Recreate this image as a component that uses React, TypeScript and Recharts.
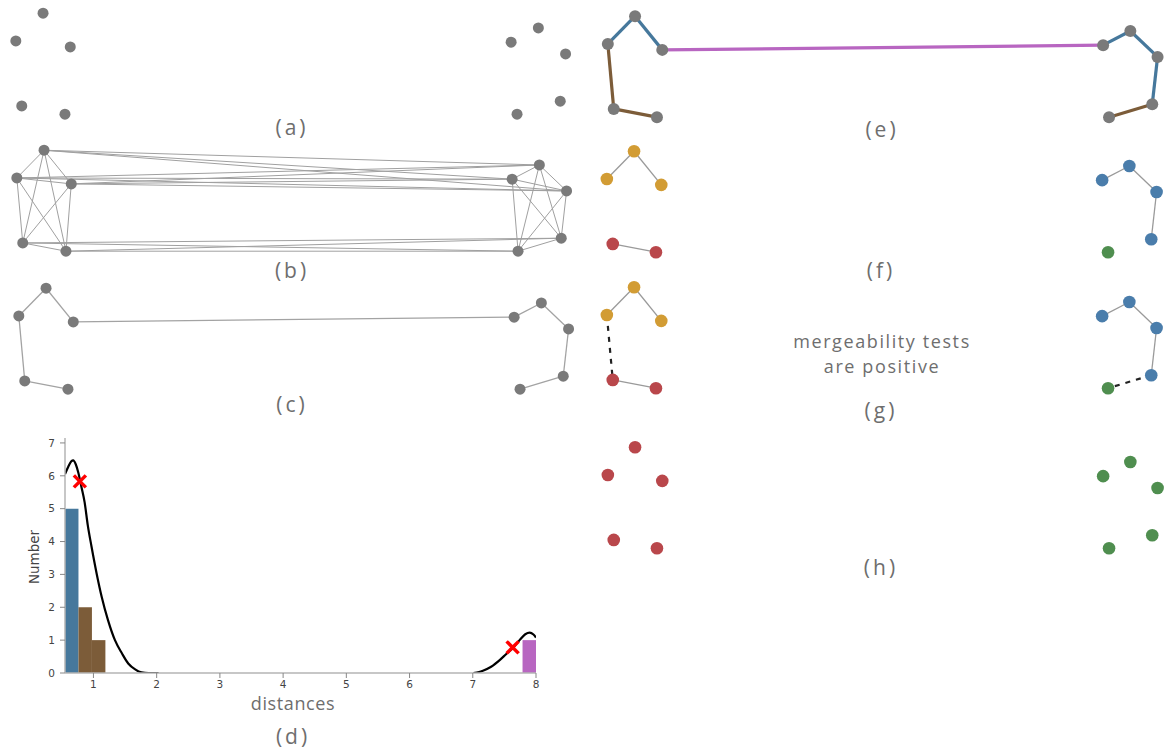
import React from 'react';
import { ScatterChart, Scatter, XAxis, YAxis, ComposedChart, Line, ReferenceArea } from 'recharts';

// the same ten points appear in every graph panel
const PX = [0.46, 0.0, 0.92, 0.1, 0.83, 8.83, 8.37, 9.29, 9.2, 8.47];
const PY = [1.71, 1.24, 1.14, 0.14, 0.0, 1.46, 1.22, 1.02, 0.22, 0.0];

// neighbourhood graph (b): both groups fully connected, plus the cross links
const LEFT_GROUP = [0, 1, 2, 3, 4];
const RIGHT_GROUP = [5, 6, 7, 8, 9];
const CROSS_EDGES: [number, number][] = [
  [0, 5], [0, 6], [0, 7], [1, 5], [1, 6], [1, 7], [2, 5], [2, 6], [2, 7],
  [3, 8], [3, 9], [4, 8], [4, 9],
];

// minimum spanning tree, coloured by histogram group
const MST_EDGES: [number, number][] = [[1, 0], [0, 2], [1, 3], [3, 4], [2, 6], [6, 5], [5, 7], [7, 8], [8, 9]];
const MST_GROUP = ['short', 'short', 'mid', 'mid', 'long', 'short', 'short', 'short', 'mid'];
const GROUP_COLORS: Record<string, string> = { short: '#46789c', mid: '#7c5c39', long: '#b866c1' };

// clusters after cutting
const CLUSTER_F = ['gold', 'gold', 'gold', 'red', 'red', 'blue', 'blue', 'blue', 'blue', 'green'];
const CLUSTER_H = ['red', 'red', 'red', 'red', 'red', 'green', 'green', 'green', 'green', 'green'];
const CLUSTER_COLORS: Record<string, string> = { gold: '#d29c34', red: '#b9474b', blue: '#4a7dab', green: '#4f8e4f' };
const F_EDGES: [number, number][] = [[1, 0], [0, 2], [3, 4], [6, 5], [5, 7], [7, 8]];
const MERGE_EDGES: [number, number][] = [[1, 3], [8, 9]];

// histogram of MST edge lengths
const BIN_LO = [0.55, 0.763, 0.976, 7.787];
const BIN_HI = [0.763, 0.976, 1.189, 8.0];
const BIN_COUNT = [5, 2, 1, 1];
const BIN_GROUP = ['short', 'mid', 'mid', 'long'];

// density estimate (two pieces)
const KDE_X = [0.55, 0.6, 0.65, 0.68, 0.72, 0.76, 0.81, 0.86, 0.91, 0.97, 1.05, 1.13, 1.23, 1.34, 1.45, 1.55, 1.66, 1.76, 1.87, 2.03,
  4.5,
  7.01, 7.1, 7.16, 7.29, 7.43, 7.53, 7.64, 7.74, 7.83, 7.9, 7.96, 8.0];
const KDE_Y = [6.05, 6.27, 6.44, 6.47, 6.35, 6.1, 5.66, 5.2, 4.5, 3.84, 3.03, 2.32, 1.61, 1.0, 0.6, 0.29, 0.11, 0.02, 0, 0,
  null,
  0, 0.03, 0.07, 0.19, 0.4, 0.58, 0.77, 1.0, 1.18, 1.23, 1.17, 1.08];

const CROSS_X = [0.785, 7.63];
const CROSS_Y = [5.83, 0.78];

const X_TICKS = [1, 2, 3, 4, 5, 6, 7, 8];
const Y_TICKS = [0, 1, 2, 3, 4, 5, 6, 7];

const GRAY = '#7a7a7a';
const TEXT = '#6e6e6e';

type Edge = { a: number; b: number; color: string; width: number; dash?: string };

function GraphPanel({ left, top, colors, r, edges }: { left: number; top: number; colors: string[]; r: number; edges: Edge[] }) {
  const pts = PX.map((x, i) => ({ x, y: PY[i], color: colors[i] }));
  return (
    <div style={{ position: 'absolute', left, top }}>
      <ScatterChart width={574} height={124} margin={{ top: 0, right: 0, bottom: 0, left: 0 }}>
        <XAxis type="number" dataKey="x" domain={[-0.2, 9.5]} hide allowDataOverflow />
        <YAxis type="number" dataKey="y" domain={[-0.2, 1.9]} hide allowDataOverflow />
        {edges.map((e, k) => (
          <Scatter
            key={k}
            data={[pts[e.a], pts[e.b]]}
            line={{ stroke: e.color, strokeWidth: e.width, strokeDasharray: e.dash }}
            shape={() => <g />}
            isAnimationActive={false}
          />
        ))}
        <Scatter
          data={pts}
          shape={(p: any) => <circle cx={p.cx} cy={p.cy} r={r} fill={p.payload.color} />}
          isAnimationActive={false}
        />
      </ScatterChart>
    </div>
  );
}

function Caption({ cx, cy, children, size = 21, spacing = 3, lh, lines = 1 }: {
  cx: number; cy: number; children: React.ReactNode; size?: number; spacing?: number; lh?: number; lines?: number;
}) {
  const lineH = lh ?? size;
  return (
    <div style={{
      position: 'absolute', left: cx - 150, top: cy - (lineH * lines) / 2, width: 300, textAlign: 'center',
      fontFamily: '"Open Sans", sans-serif', fontSize: size, lineHeight: `${lineH}px`, color: TEXT, letterSpacing: spacing,
    }}>
      {children}
    </div>
  );
}

function Cross({ cx, cy }: { cx?: number; cy?: number }) {
  if (cx == null || cy == null) return <g />;
  return (
    <g stroke="#ff0000" strokeWidth={3.5}>
      <line x1={cx - 6} y1={cy - 6} x2={cx + 6} y2={cy + 6} />
      <line x1={cx - 6} y1={cy + 6} x2={cx + 6} y2={cy - 6} />
    </g>
  );
}

export default function App() {
  const gray = PX.map(() => GRAY);
  const bEdges: Edge[] = [];
  [LEFT_GROUP, RIGHT_GROUP].forEach((grp) => {
    for (let i = 0; i < grp.length; i++) {
      for (let j = i + 1; j < grp.length; j++) bEdges.push({ a: grp[i], b: grp[j], color: '#a0a0a0', width: 1 });
    }
  });
  CROSS_EDGES.forEach(([a, b]) => bEdges.push({ a, b, color: '#a0a0a0', width: 1 }));
  const mstGray: Edge[] = MST_EDGES.map(([a, b]) => ({ a, b, color: '#a3a3a3', width: 1.3 }));
  const mstColored: Edge[] = MST_EDGES.map(([a, b], k) => ({ a, b, color: GROUP_COLORS[MST_GROUP[k]], width: 3.2 }));
  const fEdges: Edge[] = F_EDGES.map(([a, b]) => ({ a, b, color: '#9a9a9a', width: 1.3 }));
  const gEdges: Edge[] = [...fEdges, ...MERGE_EDGES.map(([a, b]) => ({ a, b, color: '#222', width: 2.2, dash: '5 6' }))];
  const fColors = CLUSTER_F.map((c) => CLUSTER_COLORS[c]);
  const hColors = CLUSTER_H.map((c) => CLUSTER_COLORS[c]);

  const kde = KDE_X.map((x, i) => ({ x, y: KDE_Y[i] }));
  const crosses = CROSS_X.map((x, i) => ({ x, y: CROSS_Y[i] }));
  const axisGray = '#b4b4b4';
  const tickStyle = { fontSize: 10.5, fill: '#444', fontFamily: '"DejaVu Sans", sans-serif' };

  return (
    <div style={{ position: 'absolute', left: 0, top: 0, width: 1168, height: 751, background: '#fff', overflow: 'hidden' }}>
      {/* left column */}
      <GraphPanel left={4} top={2} colors={gray} r={5.5} edges={[]} />
      <GraphPanel left={5} top={139} colors={gray} r={5.5} edges={bEdges} />
      <GraphPanel left={7} top={277} colors={gray} r={5.5} edges={mstGray} />

      {/* histogram (d) */}
      <div style={{ position: 'absolute', left: 0, top: 425 }}>
        <ComposedChart width={560} height={300} data={kde} margin={{ top: 13, right: 24, bottom: 22, left: 25 }}>
          <XAxis
            type="number" dataKey="x" domain={[0.55, 8]} ticks={X_TICKS} allowDataOverflow
            tick={tickStyle} tickLine={{ stroke: '#888' }} tickSize={5} tickMargin={3}
            axisLine={{ stroke: axisGray, strokeWidth: 1.5 }} height={30}
          />
          <YAxis
            type="number" dataKey="y" domain={[0, 7.15]} ticks={Y_TICKS} allowDataOverflow
            tick={tickStyle} tickLine={{ stroke: '#888' }} tickSize={5} tickMargin={5}
            axisLine={{ stroke: axisGray, strokeWidth: 1.5 }} width={40}
          />
          <XAxis xAxisId="top" orientation="top" type="number" domain={[0.55, 8]} tick={false} tickLine={false} height={0} axisLine={{ stroke: axisGray, strokeWidth: 1.5 }} />
          <YAxis yAxisId="right" orientation="right" type="number" domain={[0, 7.15]} tick={false} tickLine={false} width={0} axisLine={{ stroke: axisGray, strokeWidth: 1.5 }} />
          {BIN_COUNT.map((c, i) => (
            <ReferenceArea key={i} x1={BIN_LO[i]} x2={BIN_HI[i]} y1={0} y2={c} fill={GROUP_COLORS[BIN_GROUP[i]]} fillOpacity={1} stroke="none" ifOverflow="visible" />
          ))}
          <Line dataKey="y" type="monotone" stroke="#000" strokeWidth={2.2} dot={false} connectNulls={false} isAnimationActive={false} />
          <Scatter data={crosses} dataKey="y" shape={(p: any) => <Cross cx={p.cx} cy={p.cy} />} isAnimationActive={false} />
        </ComposedChart>
      </div>
      <div style={{
        position: 'absolute', left: 34, top: 557, transform: 'translate(-50%, -50%) rotate(-90deg)',
        fontFamily: '"DejaVu Sans", sans-serif', fontSize: 13.5, color: '#444', whiteSpace: 'nowrap',
      }}>Number</div>
      <Caption cx={293} cy={703} size={18} spacing={0.6}>distances</Caption>

      {/* right column */}
      <GraphPanel left={596} top={5} colors={gray} r={6} edges={mstColored} />
      <GraphPanel left={595} top={140} colors={fColors} r={6.3} edges={fEdges} />
      <GraphPanel left={595} top={276} colors={fColors} r={6.3} edges={gEdges} />
      <GraphPanel left={596} top={436} colors={hColors} r={6.3} edges={[]} />

      <Caption cx={292} cy={127}>(a)</Caption>
      <Caption cx={292} cy={270}>(b)</Caption>
      <Caption cx={292} cy={404}>(c)</Caption>
      <Caption cx={293} cy={736}>(d)</Caption>
      <Caption cx={882} cy={129}>(e)</Caption>
      <Caption cx={881} cy={270}>(f)</Caption>
      <Caption cx={881} cy={410}>(g)</Caption>
      <Caption cx={881} cy={567}>(h)</Caption>
      <Caption cx={882} cy={354} size={18} spacing={1.6} lh={25} lines={2}>mergeability tests<br />are positive</Caption>
    </div>
  );
}
